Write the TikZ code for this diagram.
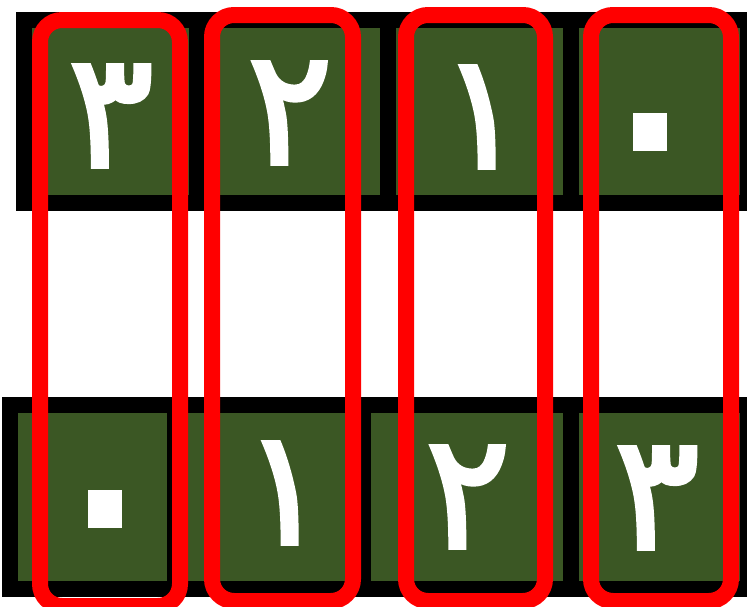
\documentclass[tikz,border=0pt]{standalone}
\usepackage{fontspec}
\newfontfamily\arabicfont[Script=Arabic, FakeBold=2.5]{DejaVu Sans}
\usepackage{tikz}
\usetikzlibrary{positioning}
\definecolor{cellgreen}{RGB}{59,87,36}
\definecolor{keyred}{RGB}{255,0,0}

\begin{document}
\begin{tikzpicture}[x=1pt, y=-1pt,
    digit/.style={text=white, inner sep=0pt, font=\arabicfont\fontsize{160}{160}\selectfont},
    zero/.style={digit, font=\arabicfont\fontsize{255}{255}\selectfont},
    group/.style={keyred, line width=16pt, rounded corners=22pt}]
  \useasboundingbox (0,0) rectangle (747,606);
  % Top row
  \fill[black] (16,12) rectangle (747,211);
  \foreach \a/\b in {32/189, 205/380, 396/563, 579/740}{
    \fill[cellgreen] (\a,28) rectangle (\b,195);
  }
  \node[digit] (t3) at (111,116) {۳};
  \node[digit] (t2) at (290,113) {۲};
  \node[digit] (t1) at (482,117) {۱};
  \node[zero] (t0) at (650,160) {۰};
  % Bottom row
  \fill[black] (2,397) rectangle (747,597);
  \foreach \a/\b in {18/167, 183/355, 371/563, 579/740}{
    \fill[cellgreen] (\a,413) rectangle (\b,581);
  }
  \node[zero] (b0) at (105,537) {۰};
  \node[digit] (b1) at (285,493) {۱};
  \node[digit] (b2) at (468,497) {۲};
  \node[digit] (b3) at (657,498) {۳};
  % Red groups
  \foreach \a/\b/\c/\d in {40/180/20/606, 212/353/15/601, 406/545/15/601, 591/731/15/601}{
    \draw[group] (\a,\c) rectangle (\b,\d);
  }
\end{tikzpicture}
\end{document}
